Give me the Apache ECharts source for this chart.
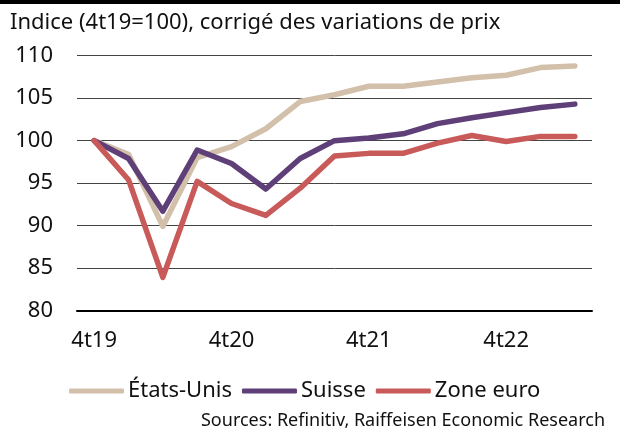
<!DOCTYPE html>
<html><head><meta charset="utf-8">
<script src="https://cdn.jsdelivr.net/npm/echarts@6/dist/echarts.min.js"></script>
<style>html,body{margin:0;padding:0;background:#fff}#c{width:620px;height:433px}</style>
</head><body><div id="c"></div>
<script>
const categories = ['4t19','1t20','2t20','3t20','4t20','1t21','2t21','3t21','4t21','1t22','2t22','3t22','4t22','1t23','2t23'];
const etatsUnis = [100, 98.4, 89.9, 98.0, 99.3, 101.4, 104.6, 105.4, 106.4, 106.4, 106.9, 107.4, 107.7, 108.6, 108.8];
const suisse    = [100, 97.9, 91.7, 98.9, 97.3, 94.3, 97.9, 100.0, 100.3, 100.8, 102.0, 102.7, 103.3, 103.9, 104.3];
const zoneEuro  = [100, 95.4, 83.9, 95.2, 92.6, 91.2, 94.4, 98.2, 98.5, 98.5, 99.7, 100.6, 99.9, 100.5, 100.5];
const yTicks = [80, 85, 90, 95, 100, 105, 110];
const seriesNames = ['États-Unis', 'Suisse', 'Zone euro'];
const colors = ['#D3C0AB', '#5E3F77', '#C85B5A'];
const titleText = 'Indice (4t19=100), corrigé des variations de prix';
const sourceText = 'Sources: Refinitiv, Raiffeisen Economic Research';

const FONT = '"Noto Sans", sans-serif';
const chart = echarts.init(document.getElementById('c'), null, {renderer: 'canvas'});
const mk = (name, data, color) => ({
  name, type: 'line', data, symbol: 'none', smooth: false,
  lineStyle: {width: 5.5, color, cap: 'round', join: 'round'},
  itemStyle: {color}, animation: false
});
chart.setOption({
  animation: false,
  textStyle: {fontFamily: FONT},
  title: {text: titleText, left: 5, top: 7,
    textStyle: {fontFamily: FONT, fontSize: 22, fontWeight: 'normal', color: '#111'}},
  graphic: [
    {type: 'rect', shape: {x: 0, y: 0, width: 620, height: 4}, style: {fill: '#000'}},
    {type: 'text', right: 15, top: 412, style: {text: sourceText, font: '18px ' + FONT, fill: '#111'}}
  ],
  legend: {
    data: seriesNames, left: 64, top: 375, itemWidth: 55, itemHeight: 5, itemGap: 10,
    icon: 'roundRect',
    textStyle: {fontFamily: FONT, fontSize: 22, color: '#111', padding: [0, 0, 0, -1]}
  },
  grid: {left: 77, right: 28, top: 55.7, bottom: 122.5, containLabel: false},
  xAxis: {
    type: 'category', data: categories, boundaryGap: true,
    axisLine: {lineStyle: {color: '#000', width: 2}},
    axisTick: {alignWithLabel: true, interval: 0, length: 5, lineStyle: {color: '#000', width: 2}},
    axisLabel: {interval: 3, fontSize: 22, color: '#111', margin: 19, fontFamily: FONT},
    splitLine: {show: false}
  },
  yAxis: {
    type: 'value', min: yTicks[0], max: yTicks[yTicks.length - 1], interval: 5,
    axisLine: {show: false}, axisTick: {show: false},
    axisLabel: {fontSize: 22, color: '#111', margin: 24, fontFamily: FONT},
    splitLine: {lineStyle: {color: '#444', width: 1}}
  },
  series: [mk(seriesNames[0], etatsUnis, colors[0]), mk(seriesNames[1], suisse, colors[1]), mk(seriesNames[2], zoneEuro, colors[2])]
});
</script></body></html>
